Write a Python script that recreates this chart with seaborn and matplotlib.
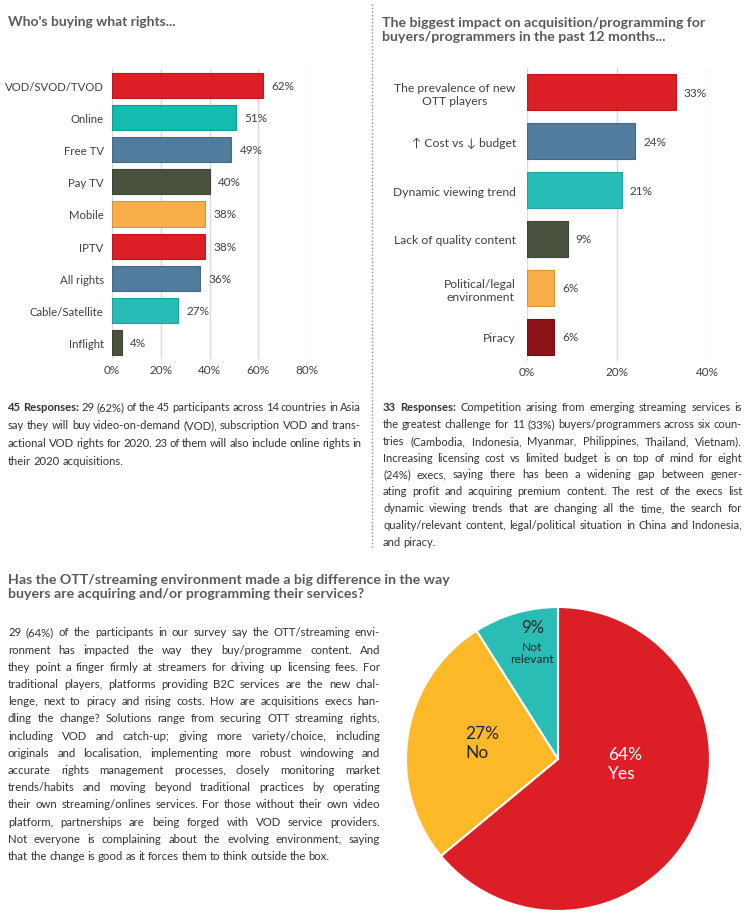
import matplotlib
matplotlib.use("Agg")
import matplotlib.pyplot as plt
import seaborn as sns
import pandas as pd

# chart data
rights = ["VOD/SVOD/TVOD", "Online", "Free TV", "Pay TV", "Mobile", "IPTV",
          "All rights", "Cable/Satellite", "Inflight"]
rights_pct = [62, 51, 49, 40, 38, 38, 36, 27, 4]
rights_colors = ["#DC1E26", "#14BBAF", "#517C9E", "#49513F", "#F9AE4C",
                 "#DC1E26", "#517C9E", "#27BDB6", "#49513F"]

impacts = ["The prevalence of new\nOTT players", "\u2191 Cost vs \u2193 budget",
           "Dynamic viewing trend", "Lack of quality content",
           "Political/legal\nenvironment", "Piracy"]
impact_pct = [33, 24, 21, 9, 6, 6]
impact_colors = ["#DC1E26", "#517C9E", "#27BDB6", "#49513F", "#F9AE4C", "#8A1318"]

answers = ["Yes", "No", "Not relevant"]
answer_pct = [64, 27, 9]
answer_colors = ["#DC1E26", "#FDB927", "#2ABDB6"]

left_text = [
    "45 Responses: 29 (62%) of the 45 participants across 14 countries in Asia",
    "say they will buy video-on-demand (VOD), subscription VOD and trans-",
    "actional VOD rights for 2020. 23 of them will also include online rights in",
    "their 2020 acquisitions.",
]
right_text = [
    "33 Responses: Competition arising from emerging streaming services is",
    "the greatest challenge for 11 (33%) buyers/programmers across six coun-",
    "tries (Cambodia, Indonesia, Myanmar, Philippines, Thailand, Vietnam).",
    "Increasing licensing cost vs limited budget is on top of mind for eight",
    "(24%) execs, saying there has been a widening gap between gener-",
    "ating profit and acquiring premium content. The rest of the execs  list",
    "dynamic viewing trends that are changing all the time, the search for",
    "quality/relevant content, legal/political situation in China and Indonesia,",
    "and piracy.",
]
bottom_text = [
    "29 (64%) of the participants in our survey say the OTT/streaming envi-",
    "ronment has impacted the way they buy/programme content. And",
    "they point a finger firmly at streamers for driving up licensing fees. For",
    "traditional players, platforms providing B2C services are the new chal-",
    "lenge, next to piracy and rising costs. How are acquisitions execs han-",
    "dling the change? Solutions range from securing OTT streaming rights,",
    "including VOD and catch-up; giving more variety/choice, including",
    "originals and localisation, implementing more robust windowing and",
    "accurate rights management processes, closely monitoring market",
    "trends/habits and moving beyond traditional practices by operating",
    "their own streaming/onlines services. For those without their own video",
    "platform, partnerships are being forged with VOD service providers.",
    "Not everyone is complaining about the evolving environment, saying",
    "that the change is good as it forces them to think outside the box.",
]

sns.set_style("white")
plt.rcParams["font.family"] = ["Lato", "DejaVu Sans"]

W, H = 750, 920
TITLE = "#5A5A5A"
TXT = "#333333"
TICK = "#404040"

fig = plt.figure(figsize=(W / 100, H / 100), dpi=100)


def fx(x):
    return x / W


def fy(y):
    return 1 - y / H


def hbar(box, cats, vals, colors, xmax, width, pad, label_size):
    x0, y0, x1, y1 = box
    ax = fig.add_axes([fx(x0), fy(y1), (x1 - x0) / W, (y1 - y0) / H])
    df = pd.DataFrame({"cat": cats, "pct": vals})
    sns.barplot(data=df, x="pct", y="cat", hue="cat", palette=colors, legend=False,
                width=width, saturation=1, ax=ax)
    for p in ax.patches:
        r, g, b, _ = p.get_facecolor()
        p.set_edgecolor((r * 0.85, g * 0.85, b * 0.85))
        p.set_linewidth(0.8)
    for c in ax.containers:
        ax.bar_label(c, fmt="%d%%", padding=6, fontsize=8.5, color=TICK)
    ax.set_xlim(0, xmax)
    ax.set_xticks(range(0, xmax + 1, 20))
    ax.set_xticklabels([f"{t}%" for t in range(0, xmax + 1, 20)])
    ax.xaxis.grid(True, color="#D9D9D9", lw=1)
    ax.set_axisbelow(True)
    sns.despine(ax=ax, left=True, bottom=True)
    ax.tick_params(length=0, labelsize=8.5, colors=TICK)
    ax.tick_params(axis="y", pad=pad, labelsize=label_size)
    for t in ax.get_yticklabels():
        t.set_multialignment("center")
    ax.set_xlabel("")
    ax.set_ylabel("")
    return ax


hbar((112, 70, 307, 360), rights, rights_pct, rights_colors, 80, 0.78, 6, 8.2)
hbar((527, 69, 707, 362), impacts, impact_pct, impact_colors, 40, 0.74, 8, 8.7)

# titles
fig.text(fx(8), fy(22), "Who's buying what rights...", fontsize=10, fontweight="bold",
         color=TITLE, va="center")
fig.text(fx(382), fy(30), "The biggest impact on acquisition/programming for\n"
         "buyers/programmers in the past 12 months...", fontsize=10.2, fontweight="bold",
         color=TITLE, va="center", linespacing=1.25)
fig.text(fx(8), fy(587), "Has the OTT/streaming environment made a big difference in the way\n"
         "buyers are acquiring and/or programming their services?", fontsize=10.2,
         fontweight="bold", color=TITLE, va="center", linespacing=1.3)

# dotted separator
fig.add_artist(plt.Line2D([fx(372), fx(372)], [fy(5), fy(550)], transform=fig.transFigure,
                          color="#8C8C8C", lw=1, linestyle=(0, (1, 1.5))))


def justified(lines, x0, x1, y0, step, size, n_bold=0):
    rend = fig.canvas.get_renderer()
    space = size * 0.3
    for i, line in enumerate(lines):
        words = line.split()
        arts = []
        for j, w in enumerate(words):
            weight = "bold" if (i == 0 and j < n_bold) else "normal"
            arts.append(fig.text(0, fy(y0 + i * step), w, fontsize=size,
                                 fontweight=weight, color=TXT, va="center"))
        widths = [t.get_window_extent(rend).width for t in arts]
        if i == len(lines) - 1:
            gap = space
        else:
            gap = max((x1 - x0 - sum(widths)) / (len(words) - 1), 1.5)
        x = x0
        for t, w in zip(arts, widths):
            t.set_x(fx(x))
            x += w + gap


justified(left_text, 8, 361, 408, 17.7, 8.1, n_bold=2)
justified(right_text, 383, 742, 408, 16.75, 8.0, n_bold=2)
justified(bottom_text, 8, 380, 633, 17.2, 8.2)

# pie
cx, cy, rad = 558, 760, 152
pax = fig.add_axes([fx(cx - rad), fy(cy + rad), 2 * rad / W, 2 * rad / H])
pax.pie(answer_pct, colors=answer_colors, startangle=90, counterclock=False,
        wedgeprops=dict(edgecolor="white", linewidth=1.5))
pax.set_xlim(-1, 1)
pax.set_ylim(-1, 1)
pax.text(0.33, -0.03, f"{answer_pct[0]}%\n{answers[0]}", color="white", fontsize=12.5,
         ha="left", va="center", linespacing=1.2)
pax.text(-0.61, 0.11, f"{answer_pct[1]}%\n{answers[1]}", color="#262626", fontsize=12.5,
         ha="left", va="center", linespacing=1.2)
pax.text(-0.17, 0.87, f"{answer_pct[2]}%", color="#262626", fontsize=12,
         ha="center", va="center")
pax.text(-0.17, 0.70, "Not\nrelevant", color="#262626", fontsize=8.7,
         ha="center", va="center", linespacing=1.15)

fig.savefig("out.png", dpi=100)
